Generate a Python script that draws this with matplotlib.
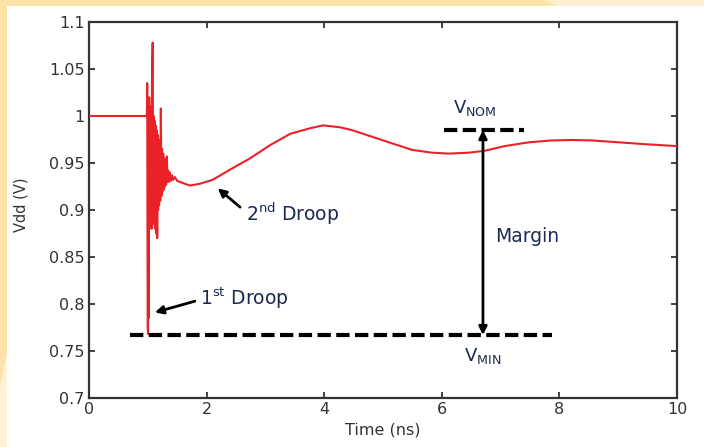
import matplotlib
matplotlib.use("Agg")
import matplotlib.pyplot as plt
from matplotlib.patches import Rectangle, Polygon

# Supply voltage after a load step (ns, V): flat, fast ring-down, slow recovery
time_ns = [0.0, 0.985, 0.99, 0.998, 1.004, 1.01, 1.016, 1.024, 1.032, 1.04,
           1.048, 1.056, 1.064, 1.072, 1.083, 1.092, 1.10, 1.108, 1.116, 1.124,
           1.132, 1.142, 1.152, 1.16, 1.168, 1.176, 1.184, 1.192, 1.20, 1.212,
           1.222, 1.232, 1.242, 1.252, 1.262, 1.272, 1.282, 1.292, 1.302, 1.312,
           1.325, 1.335, 1.345, 1.36, 1.375, 1.39, 1.41, 1.43, 1.46, 1.5,
           1.58, 1.72, 1.89, 2.1, 2.4, 2.74, 3.08, 3.42, 3.76, 3.98, 4.27, 4.47,
           4.81, 5.15, 5.49, 5.83, 6.12, 6.46, 6.73, 7.07, 7.48, 7.87, 8.21,
           8.55, 9.01, 9.46, 10.0]
vdd = [1.0, 1.0, 1.035, 0.775, 0.768, 0.99, 0.785, 1.02, 0.90, 1.0,
       0.89, 1.01, 0.88, 1.04, 1.078, 0.89, 1.0, 0.885, 0.995, 0.88,
       0.99, 0.875, 0.985, 0.87, 0.98, 0.90, 0.975, 0.905, 0.97, 0.91,
       1.008, 0.915, 0.965, 0.92, 0.96, 0.922, 0.955, 0.925, 0.948, 0.927,
       0.957, 0.93, 0.942, 0.93, 0.94, 0.931, 0.937, 0.932, 0.935, 0.931,
       0.929, 0.926, 0.928, 0.932, 0.943, 0.955, 0.969, 0.981, 0.987, 0.990,
       0.988, 0.985, 0.978, 0.971, 0.964, 0.961, 0.960, 0.961, 0.963, 0.968,
       0.972, 0.974, 0.9745, 0.974, 0.972, 0.970, 0.968]

v_nom = 0.985
v_min = 0.767
nom_span = [6.04, 7.40]
min_span = [0.70, 7.87]
margin_x = 6.70

x_ticks = [0, 2, 4, 6, 8, 10]
y_ticks = [0.7, 0.75, 0.8, 0.85, 0.9, 0.95, 1.0, 1.05, 1.1]
y_tick_labels = ["0.7", "0.75", "0.8", "0.85", "0.9", "0.95", "1", "1.05", "1.1"]

plt.rcParams["font.family"] = ["DejaVu Sans"]
plt.rcParams["mathtext.fontset"] = "dejavusans"

W, H = 704, 447
fig = plt.figure(figsize=(W / 100, H / 100), dpi=100)
fig.patch.set_facecolor("#fef0d0")

# slide frame: warm band on top/left, white page
fig.patches.append(Polygon([(0, 0), (0, 1), (545 / W, 1), (560 / W, 1 - 8 / H),
                            (1, 1 - 8 / H), (1, 0)],
                           closed=True, transform=fig.transFigure,
                           facecolor="#fde3aa", edgecolor="none", zorder=0))
fig.patches.append(Polygon([(0, 0), (0, 60 / H), (8 / W, 100 / H), (8 / W, 0)],
                           closed=True, transform=fig.transFigure,
                           facecolor="#fef1d6", edgecolor="none", zorder=1))
fig.patches.append(Rectangle((7 / W, 0), 1 - 7 / W, 1 - 6 / H,
                             transform=fig.transFigure, facecolor="white",
                             edgecolor="none", zorder=2))

ax = fig.add_axes([89 / W, 49 / H, 588 / W, 376 / H])
ax.set_zorder(3)
ax.set_facecolor("white")

ax.plot(time_ns, vdd, color="#ea2228", lw=1.5, zorder=3)

ax.set_xlim(0, 10)
ax.set_ylim(0.7, 1.1)
ax.set_xticks(x_ticks)
ax.set_yticks(y_ticks)
ax.set_yticklabels(y_tick_labels)
ax.tick_params(direction="in", top=True, right=True, length=4, width=1.3,
               colors="#333333", labelsize=11.5, pad=3)
for s in ax.spines.values():
    s.set_color("#333333")
    s.set_linewidth(1.6)

ax.set_xlabel("Time (ns)", fontsize=11.5, color="#333333", labelpad=4)
ax.set_ylabel("Vdd (V)", fontsize=10.5, color="#333333")
ax.yaxis.set_label_coords(-0.103, 0.513)

# nominal and minimum voltage markers
dash = (0, (3.2, 1.3))
ax.plot(nom_span, [v_nom, v_nom], color="black", lw=3, linestyle=dash, zorder=4)
ax.plot(min_span, [v_min, v_min], color="black", lw=3, linestyle=dash, zorder=4)
ax.annotate("", xy=(margin_x, v_min), xytext=(margin_x, v_nom),
            arrowprops=dict(arrowstyle="<|-|>", lw=2, color="black",
                            mutation_scale=12, shrinkA=0, shrinkB=0), zorder=5)

txt = "#1d2a50"
ax.text(6.19, 1.009, r"V$_{\mathrm{NOM}}$", fontsize=13, color=txt,
        ha="left", va="center")
ax.text(6.38, 0.745, r"V$_{\mathrm{MIN}}$", fontsize=13, color=txt,
        ha="left", va="center")
ax.text(6.90, 0.872, "Margin", fontsize=13.5, color=txt, ha="left", va="center")

ax.annotate("", xy=(1.12, 0.791), xytext=(1.80, 0.803),
            arrowprops=dict(arrowstyle="-|>", lw=2, color="black",
                            mutation_scale=12, shrinkA=0, shrinkB=0))
ax.text(1.88, 0.806, r"1$^{\mathrm{st}}$ Droop", fontsize=13.5, color=txt,
        ha="left", va="center")

ax.annotate("", xy=(2.19, 0.923), xytext=(2.57, 0.903),
            arrowprops=dict(arrowstyle="-|>", lw=2, color="black",
                            mutation_scale=12, shrinkA=0, shrinkB=0))
ax.text(2.67, 0.896, r"2$^{\mathrm{nd}}$ Droop", fontsize=13.5, color=txt,
        ha="left", va="center")

fig.savefig("out.png", dpi=100, facecolor=fig.get_facecolor())
